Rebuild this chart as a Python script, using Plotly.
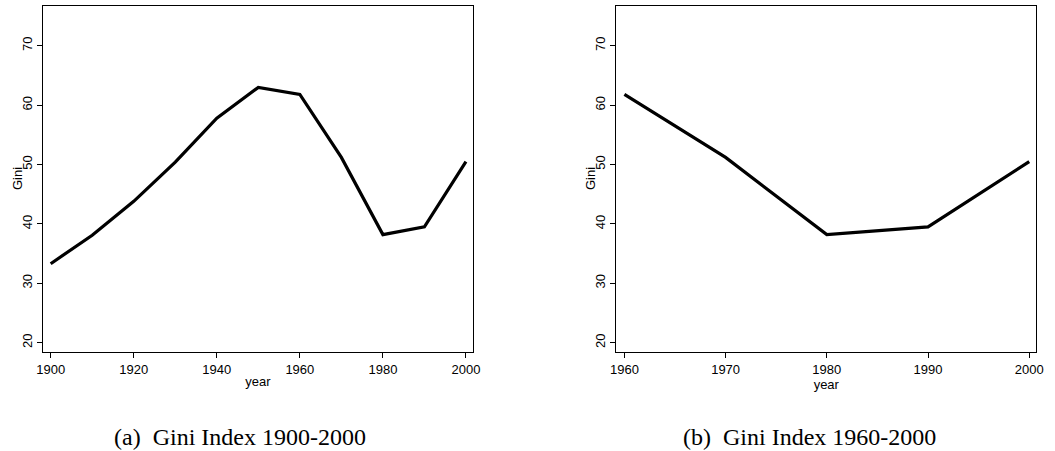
import plotly.graph_objects as go
from plotly.subplots import make_subplots

years_a = [1900, 1910, 1920, 1930, 1940, 1950, 1960, 1970, 1980, 1990, 2000]
gini_a = [33.3, 38.1, 43.8, 50.4, 57.8, 63.0, 61.8, 51.2, 38.2, 39.5, 50.5]

years_b = [1960, 1970, 1980, 1990, 2000]
gini_b = [61.8, 51.2, 38.2, 39.5, 50.5]

xticks_a = [1900, 1920, 1940, 1960, 1980, 2000]
xticks_b = [1960, 1970, 1980, 1990, 2000]
yticks = [20, 30, 40, 50, 60, 70]

captions = ["(a)  Gini Index 1900-2000", "(b)  Gini Index 1960-2000"]

W, H = 1055, 451
fig = make_subplots(rows=1, cols=2)

fig.add_trace(go.Scatter(x=years_a, y=gini_a, mode="lines",
                         line=dict(color="black", width=3.2), showlegend=False), row=1, col=1)
fig.add_trace(go.Scatter(x=years_b, y=gini_b, mode="lines",
                         line=dict(color="black", width=3.2), showlegend=False), row=1, col=2)

tickfont = dict(family="Liberation Sans, Arial, sans-serif", size=13, color="black")
axis_common = dict(showgrid=False, zeroline=False, showline=True, linecolor="black",
                   linewidth=1.3, mirror=True, ticks="outside", ticklen=5, tickcolor="black",
                   tickwidth=1, tickfont=tickfont, automargin=False)

ydom = [1 - 352 / H, 1 - 6 / H]
fig.update_layout(
    xaxis=dict(domain=[43 / W, 473 / W], range=[1898.15, 2001.7], tickvals=xticks_a,
               title=dict(text="year", font=tickfont, standoff=1), **axis_common),
    xaxis2=dict(domain=[616.3 / W, 1036.3 / W], range=[1959.2, 2000.7], tickvals=xticks_b,
                title=dict(text="year", font=tickfont, standoff=1), **axis_common),
    yaxis=dict(domain=ydom, range=[18.43, 76.7], tickvals=yticks, tickangle=-90, **axis_common),
    yaxis2=dict(domain=ydom, range=[18.43, 76.7], tickvals=yticks, tickangle=-90, **axis_common),
    width=W, height=H, margin=dict(l=0, r=0, t=0, b=0),
    plot_bgcolor="white", paper_bgcolor="white",
)

# y-axis titles ("Gini"), placed next to the tick labels
for gx in [17 / W, 590 / W]:
    fig.add_annotation(x=gx, y=1 - 179 / H, xref="paper", yref="paper", text="Gini",
                       textangle=-90, showarrow=False, font=tickfont,
                       xanchor="center", yanchor="middle")

capfont = dict(family="Liberation Serif, Times New Roman, serif", size=24, color="black")
for cx, txt in zip([240 / W, 809 / W], captions):
    fig.add_annotation(x=cx, y=1 - 437 / H, xref="paper", yref="paper", text=txt,
                       showarrow=False, font=capfont, xanchor="center", yanchor="middle")

fig.write_html(
    "out.html",
    config={"displayModeBar": False},
    post_script="document.body.style.margin='0';document.body.style.padding='0';"
                "document.body.style.overflow='hidden';",
)
